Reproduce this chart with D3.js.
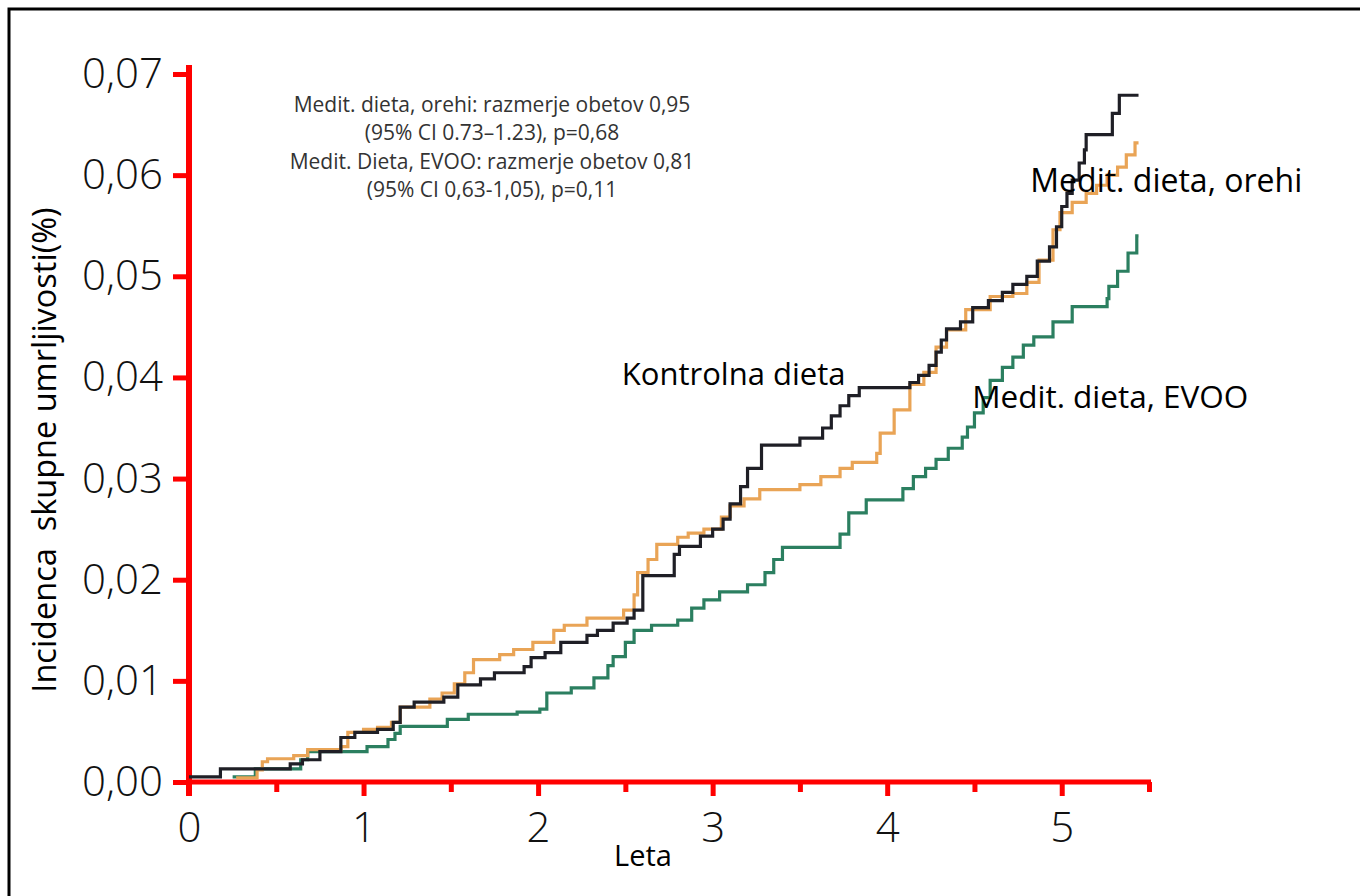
<!DOCTYPE html>
<html>
<head>
<meta charset="utf-8">
<script src="https://cdn.jsdelivr.net/npm/d3@7"></script>
<style>
  body { margin: 0; background: #fff; }
  text { font-family: "Open Sans", sans-serif; }
</style>
</head>
<body>
<div id="chart"></div>
<script>
// kaplan-meier style step curves, [leta, incidenca]
var kontrolna = [
  [0, 0.0005], [0.18, 0.0013], [0.58, 0.0018], [0.65, 0.0022], [0.75, 0.003],
  [0.87, 0.0044], [0.95, 0.0049], [1.08, 0.0052], [1.17, 0.0059], [1.21, 0.0074],
  [1.29, 0.0079], [1.46, 0.0084], [1.54, 0.0096], [1.67, 0.0102], [1.75, 0.0108],
  [1.92, 0.0114], [1.96, 0.0123], [2.04, 0.0128], [2.13, 0.0138], [2.28, 0.0145],
  [2.34, 0.015], [2.43, 0.0157], [2.51, 0.0162], [2.55, 0.017], [2.6, 0.0204],
  [2.78, 0.0225], [2.81, 0.0233], [2.93, 0.0243], [3.0, 0.025], [3.06, 0.026],
  [3.1, 0.0275], [3.16, 0.0292], [3.2, 0.031], [3.28, 0.0333], [3.5, 0.034],
  [3.63, 0.035], [3.68, 0.0362], [3.73, 0.0372], [3.78, 0.0382], [3.84, 0.039],
  [4.13, 0.0395], [4.18, 0.0402], [4.24, 0.0412], [4.28, 0.0425], [4.31, 0.0437],
  [4.34, 0.0448], [4.42, 0.0455], [4.49, 0.0469], [4.58, 0.0476], [4.66, 0.0484],
  [4.72, 0.0492], [4.8, 0.05], [4.86, 0.0515], [4.93, 0.0529], [4.97, 0.0549],
  [5.0, 0.0569], [5.03, 0.0582], [5.06, 0.0595], [5.1, 0.0612], [5.13, 0.0625],
  [5.14, 0.064], [5.29, 0.0661], [5.33, 0.0679], [5.44, 0.0679]
];
var orehi = [
  [0.27, 0.0004], [0.39, 0.0012], [0.42, 0.002], [0.45, 0.0023], [0.6, 0.0026],
  [0.68, 0.0032], [0.87, 0.0035], [0.91, 0.0049], [1.0, 0.0052], [1.08, 0.0054],
  [1.16, 0.0059], [1.21, 0.0074], [1.38, 0.0082], [1.45, 0.0088], [1.52, 0.0097],
  [1.58, 0.0108], [1.63, 0.0121], [1.78, 0.0126], [1.86, 0.0131], [1.97, 0.0138],
  [2.09, 0.015], [2.15, 0.0155], [2.28, 0.0162], [2.49, 0.017], [2.55, 0.0185],
  [2.57, 0.0207], [2.63, 0.022], [2.68, 0.0235], [2.8, 0.0242], [2.86, 0.0246],
  [2.95, 0.025], [3.05, 0.0262], [3.1, 0.0273], [3.18, 0.028], [3.27, 0.0289],
  [3.5, 0.0294], [3.62, 0.0302], [3.73, 0.031], [3.8, 0.0316], [3.94, 0.0325],
  [3.96, 0.0345], [4.04, 0.0368], [4.13, 0.0393], [4.21, 0.0405], [4.28, 0.043],
  [4.34, 0.0447], [4.45, 0.0467], [4.59, 0.048], [4.72, 0.0483], [4.8, 0.0494],
  [4.87, 0.0516], [4.95, 0.0546], [4.99, 0.0563], [5.06, 0.0573], [5.14, 0.0582],
  [5.2, 0.059], [5.26, 0.06], [5.32, 0.0608], [5.37, 0.062], [5.42, 0.0632],
  [5.44, 0.0632]
];
var evoo = [
  [0.25, 0.0005], [0.38, 0.0013], [0.64, 0.0022], [0.68, 0.003], [1.02, 0.0035],
  [1.14, 0.0042], [1.18, 0.0048], [1.21, 0.0055], [1.48, 0.0062], [1.6, 0.0067],
  [1.88, 0.0069], [2.01, 0.0072], [2.05, 0.0088], [2.19, 0.0093], [2.32, 0.0103],
  [2.4, 0.0115], [2.43, 0.0124], [2.5, 0.0138], [2.55, 0.015], [2.65, 0.0155],
  [2.8, 0.016], [2.88, 0.0172], [2.95, 0.018], [3.04, 0.0188], [3.2, 0.0195],
  [3.3, 0.0207], [3.35, 0.022], [3.4, 0.0232], [3.73, 0.0245], [3.78, 0.0266],
  [3.88, 0.0279], [4.09, 0.029], [4.15, 0.0302], [4.22, 0.031], [4.28, 0.0319],
  [4.35, 0.033], [4.43, 0.0341], [4.46, 0.0351], [4.5, 0.0365], [4.55, 0.038],
  [4.59, 0.0397], [4.66, 0.041], [4.72, 0.042], [4.78, 0.0432], [4.84, 0.044],
  [4.95, 0.0455], [5.06, 0.047], [5.26, 0.0478], [5.27, 0.049], [5.32, 0.0505],
  [5.38, 0.0523], [5.43, 0.054], [5.44, 0.054]
];

var xTicks = [0, 1, 2, 3, 4, 5];
var xMinorTicks = [0.5, 1.5, 2.5, 3.5, 4.5, 5.5];
var yTicks = [0, 0.01, 0.02, 0.03, 0.04, 0.05, 0.06, 0.07];
var statLines = [
  'Medit. dieta, orehi: razmerje obetov 0,95',
  '(95% CI 0.73\u20131.23), p=0,68',
  'Medit. Dieta, EVOO: razmerje obetov 0,81',
  '(95% CI 0,63-1,05), p=0,11'
];

var width = 1360,
    height = 896;

var svg = d3.select('#chart')
    .append('svg')
    .attr('width', width)
    .attr('height', height);

// frame (only top and left visible in the original)
svg.append('rect')
    .attr('x', 9)
    .attr('y', 9)
    .attr('width', width + 20)
    .attr('height', height + 20)
    .attr('fill', 'none')
    .attr('stroke', '#000')
    .attr('stroke-width', 3);

var x = d3.scaleLinear().domain([0, 5.5]).range([189, 1149]);
var y = d3.scaleLinear().domain([0, 0.07]).range([782, 74]);

var fmt = d3.format('.2f');

// y axis
var yAxis = svg.append('g')
    .attr('transform', `translate(${x(0)},0)`)
    .call(d3.axisLeft(y).tickValues(yTicks).tickSize(16).tickPadding(10)
        .tickFormat(d => fmt(d).replace('.', ',')));
yAxis.select('.domain').remove();
yAxis.selectAll('line').attr('stroke', 'red').attr('stroke-width', 5);
yAxis.selectAll('text')
    .attr('font-size', 42)
    .attr('font-weight', 300)
    .attr('fill', '#111')
    .style('font-family', '"Open Sans", sans-serif');

// x axis
var xAxis = svg.append('g')
    .attr('transform', `translate(0,${y(0)})`)
    .call(d3.axisBottom(x).tickValues(xTicks).tickSize(14).tickPadding(16)
        .tickFormat(d3.format('d')));
xAxis.select('.domain').remove();
xAxis.selectAll('line').attr('stroke', 'red').attr('stroke-width', 5);
xAxis.selectAll('text')
    .attr('font-size', 42)
    .attr('font-weight', 300)
    .attr('fill', '#111')
    .style('font-family', '"Open Sans", sans-serif');

var xMinor = svg.append('g')
    .attr('transform', `translate(0,${y(0)})`)
    .call(d3.axisBottom(x).tickValues(xMinorTicks).tickSize(10).tickFormat(''));
xMinor.select('.domain').remove();
xMinor.selectAll('line').attr('stroke', 'red').attr('stroke-width', 5);

// axis lines
svg.append('line')
    .attr('x1', x(0)).attr('x2', x(0))
    .attr('y1', y(0.0709)).attr('y2', y(0) + 14)
    .attr('stroke', 'red').attr('stroke-width', 6);
svg.append('line')
    .attr('x1', x(0)).attr('x2', x(5.5) + 2)
    .attr('y1', y(0)).attr('y2', y(0))
    .attr('stroke', 'red').attr('stroke-width', 5);

// curves
var line = d3.line()
    .x(d => x(d[0]))
    .y(d => y(d[1]))
    .curve(d3.curveStepAfter);

var series = [
  { data: evoo, color: '#2b7f60' },
  { data: orehi, color: '#e9a456' },
  { data: kontrolna, color: '#1f1f26' }
];

svg.selectAll('.curve')
    .data(series)
    .enter()
    .append('path')
    .attr('class', 'curve')
    .attr('d', d => line(d.data))
    .attr('fill', 'none')
    .attr('stroke', d => d.color)
    .attr('stroke-width', 3.2);

// curve labels
svg.append('text')
    .attr('x', x(2.48)).attr('y', y(0.03925))
    .attr('font-size', 31).attr('fill', '#000')
    .text('Kontrolna dieta');
svg.append('text')
    .attr('x', x(4.82)).attr('y', y(0.05833))
    .attr('font-size', 32).attr('fill', '#000')
    .text('Medit. dieta, orehi');
svg.append('text')
    .attr('x', x(4.487)).attr('y', y(0.03698))
    .attr('font-size', 31.5).attr('fill', '#000')
    .text('Medit. dieta, EVOO');

// stats block
svg.append('g')
    .selectAll('text')
    .data(statLines)
    .enter()
    .append('text')
    .attr('x', x(1.736))
    .attr('y', (d, i) => y(0.06625) + i * 28.5)
    .attr('text-anchor', 'middle')
    .attr('font-size', 21)
    .attr('fill', '#333')
    .text(d => d);

// axis titles
svg.append('text')
    .attr('transform', `translate(56,450) rotate(-90)`)
    .attr('text-anchor', 'middle')
    .attr('font-size', 32.5)
    .attr('fill', '#000')
    .style('white-space', 'pre')
    .text('Incidenca  skupne umrljivosti(%)');
svg.append('text')
    .attr('x', 643).attr('y', 866)
    .attr('text-anchor', 'middle')
    .attr('font-size', 29)
    .attr('fill', '#000')
    .text('Leta');
</script>
</body>
</html>
